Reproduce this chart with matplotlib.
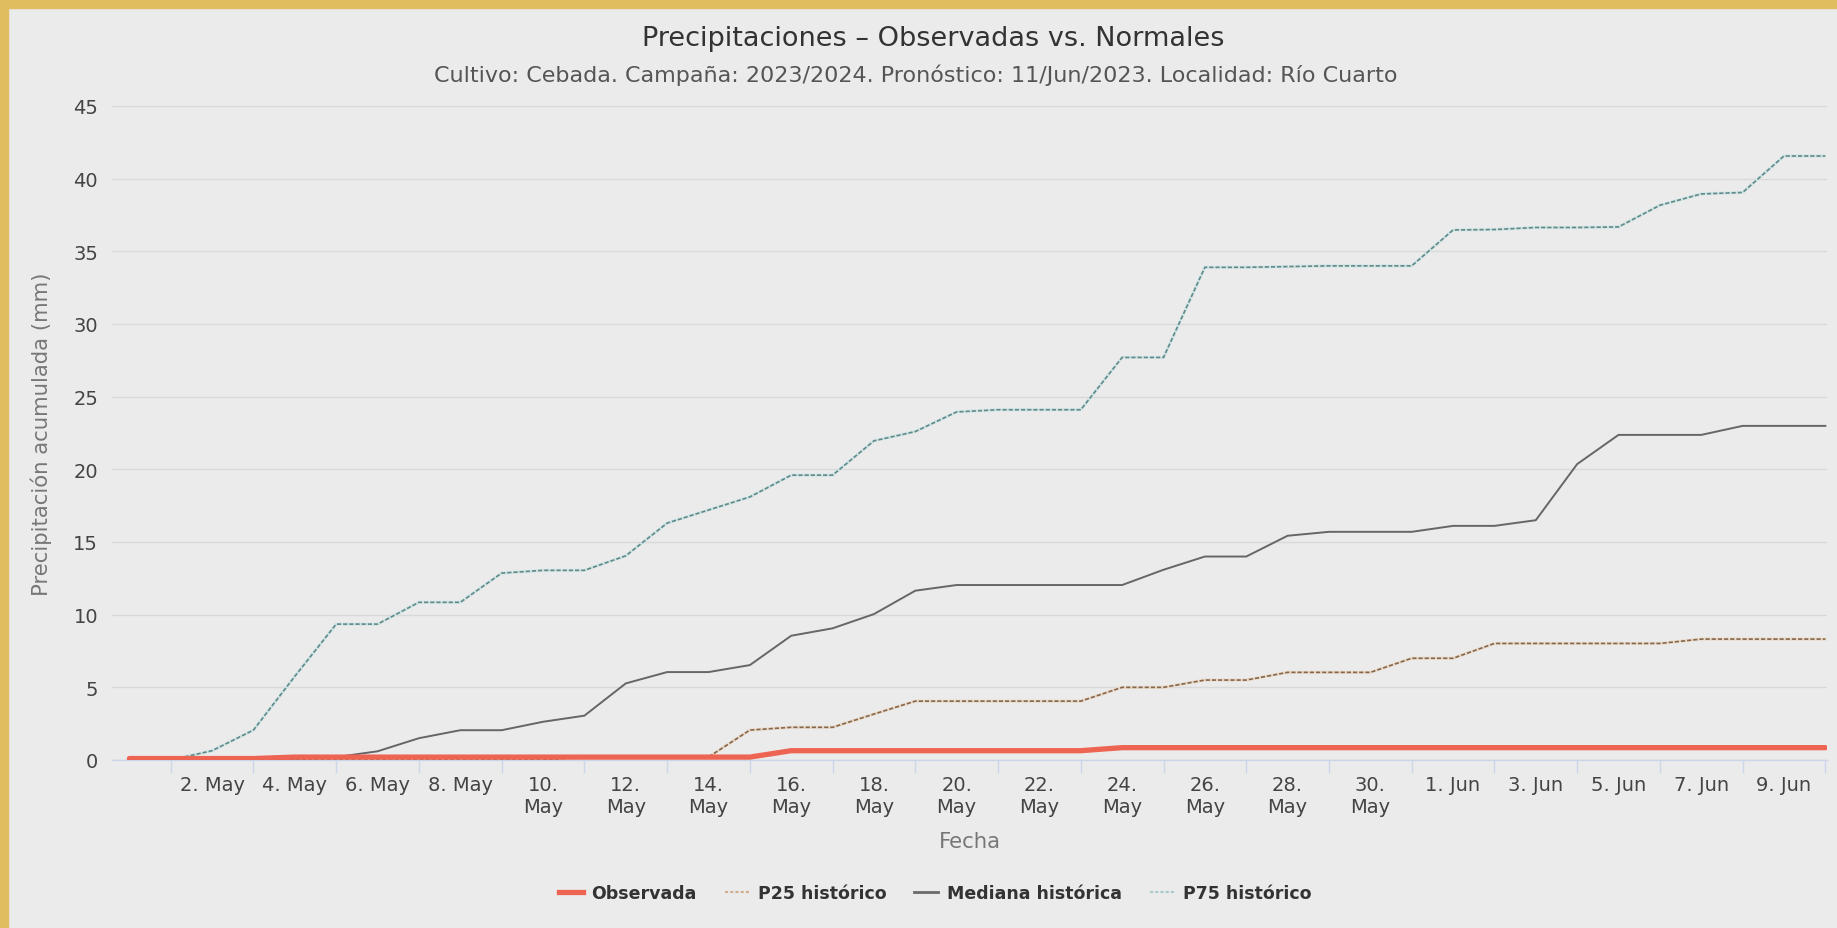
import matplotlib
matplotlib.use("Agg")
import matplotlib.pyplot as plt
from matplotlib.lines import Line2D
from matplotlib.patches import Rectangle

# ---------------- data ----------------
# day index 0 = 30 Apr 2023 ... 41 = 10 Jun 2023
dias = list(range(42))
tick_pos = [2, 4, 6, 8, 10, 12, 14, 16, 18, 20, 22, 24, 26, 28, 30, 32, 34, 36, 38, 40]
tick_labels = ["2. May", "4. May", "6. May", "8. May", "10.\nMay", "12.\nMay", "14.\nMay",
               "16.\nMay", "18.\nMay", "20.\nMay", "22.\nMay", "24.\nMay", "26.\nMay",
               "28.\nMay", "30.\nMay", "1. Jun", "3. Jun", "5. Jun", "7. Jun", "9. Jun"]
tick_marks = [1, 3, 5, 7, 9, 11, 13, 15, 17, 19, 21, 23, 25, 27, 29, 31, 33, 35, 37, 39, 41]

observada = [0.1, 0.1, 0.1, 0.1, 0.2, 0.2, 0.2, 0.2, 0.2, 0.2, 0.2, 0.2, 0.2, 0.2,
             0.2, 0.2, 0.64, 0.64, 0.64, 0.64, 0.64, 0.64, 0.64, 0.64, 0.85, 0.85,
             0.85, 0.85, 0.85, 0.85, 0.85, 0.85, 0.85, 0.85, 0.85, 0.85, 0.85, 0.85,
             0.85, 0.85, 0.85, 0.85]
p25 = [0, 0, 0, 0, 0, 0, 0, 0, 0, 0, 0, 0.2, 0.2, 0.2, 0.2, 2.06, 2.25, 2.25, 3.16,
       4.05, 4.05, 4.05, 4.05, 4.05, 5.0, 5.0, 5.5, 5.5, 6.03, 6.03, 6.03, 7.0, 7.0,
       8.02, 8.02, 8.02, 8.02, 8.02, 8.32, 8.32, 8.32, 8.32]
mediana = [0, 0, 0, 0, 0.1, 0.2, 0.6, 1.5, 2.05, 2.05, 2.63, 3.05, 5.27, 6.05, 6.05,
           6.53, 8.55, 9.06, 10.04, 11.65, 12.04, 12.04, 12.04, 12.04, 12.04, 13.09,
           14.0, 14.0, 15.43, 15.7, 15.7, 15.7, 16.11, 16.11, 16.5, 20.36, 22.37,
           22.37, 22.37, 22.99, 22.99, 22.99]
p75 = [0, 0, 0.64, 2.06, 5.76, 9.35, 9.35, 10.85, 10.85, 12.86, 13.05, 13.05, 14.05,
       16.3, 17.2, 18.1, 19.6, 19.6, 21.96, 22.6, 23.95, 24.1, 24.1, 24.1, 27.7, 27.7,
       33.9, 33.9, 33.95, 34.0, 34.0, 34.0, 36.47, 36.5, 36.64, 36.64, 36.68, 38.17,
       38.95, 39.05, 41.56, 41.56]

# ---------------- figure ----------------
W, H = 1837, 929
BG = "#EBEBEB"
fig = plt.figure(figsize=(W / 100, H / 100), dpi=100, facecolor=BG)
plt.rcParams["font.family"] = ["DejaVu Sans"]

# gold frame (top and left)
fig.patches.append(Rectangle((0, 1 - 9 / H), 1, 9 / H, transform=fig.transFigure,
                             color="#E0BD5E", zorder=0))
fig.patches.append(Rectangle((0, 0), 8 / W, 1, transform=fig.transFigure,
                             color="#E0BD5E", zorder=0))

L, R, T, B = 112, 1827, 107, 761
ax = fig.add_axes([L / W, 1 - B / H, (R - L) / W, (B - T) / H])
ax.set_facecolor(BG)

ax.set_xlim(-0.42, 41.04)
ax.set_ylim(0, 45)
ax.set_yticks([0, 5, 10, 15, 20, 25, 30, 35, 40, 45])
ax.grid(axis="y", color="#D9D9D9", lw=1)
ax.set_axisbelow(True)

for s in ["top", "right", "left"]:
    ax.spines[s].set_visible(False)
ax.spines["bottom"].set_color("#CCD6EB")
ax.spines["bottom"].set_linewidth(1)
ax.spines["bottom"].set_zorder(1)

ax.set_xticks(tick_pos)
ax.set_xticklabels(tick_labels)
ax.set_xticks(tick_marks, minor=True)
ax.tick_params(axis="x", which="major", length=0, pad=11, labelsize=14,
               labelcolor="#444444")
ax.tick_params(axis="x", which="minor", length=9, color="#CCD6EB", width=1)
ax.tick_params(axis="y", length=0, pad=10, labelsize=14, labelcolor="#444444")
for lab in ax.get_xticklabels():
    lab.set_linespacing(1.15)

# series
ax.plot(dias, p75, color="#D3E4E4", lw=2.2, zorder=3, solid_capstyle="butt")
ax.plot(dias, p75, color="#5F8A8A", lw=1.2, ls=(0, (2.5, 1.2)), zorder=4)
ax.plot(dias, mediana, color="#666666", lw=1.4, zorder=4)
ax.plot(dias, p25, color="#EADACB", lw=2.2, zorder=3)
ax.plot(dias, p25, color="#86674A", lw=1.2, ls=(0, (2.5, 1.2)), zorder=4)
ax.plot(dias, observada, color="#EE6452", lw=3.8, zorder=5, solid_capstyle="round")

# titles
fig.text(0.5 + 15 / W, 1 - 39 / H, "Precipitaciones – Observadas vs. Normales",
         ha="center", va="center", fontsize=19.5, color="#333333")
fig.text(0.5 - 3 / W, 1 - 75 / H,
         "Cultivo: Cebada. Campaña: 2023/2024. Pronóstico: 11/Jun/2023. Localidad: Río Cuarto",
         ha="center", va="center", fontsize=16, color="#555555")

ax.set_ylabel("Precipitación acumulada (mm)", fontsize=15.3, color="#777777")
ax.yaxis.set_label_coords((52 - L) / (R - L), 0.5)
ax.set_xlabel("Fecha", fontsize=15.3, color="#777777")
ax.xaxis.set_label_coords(0.5, (B - 832) / (B - T))

handles = [
    Line2D([], [], color="#EE6452", lw=3.8),
    Line2D([], [], color="#CFAF8F", lw=1.5, ls=(0, (1.5, 1))),
    Line2D([], [], color="#6A6A6A", lw=2),
    Line2D([], [], color="#A6CACA", lw=1.5, ls=(0, (1.5, 1))),
]
labels = ["Observada", "P25 histórico", "Mediana histórica", "P75 histórico"]
fig.legend(handles, labels, loc="center", bbox_to_anchor=(935 / W, 1 - 894 / H),
           ncol=4, frameon=False, handlelength=1.4, handletextpad=0.5,
           columnspacing=1.6, prop={"weight": "bold", "size": 12.5},
           labelcolor="#333333")

fig.savefig("out.png", dpi=100, facecolor=BG)
